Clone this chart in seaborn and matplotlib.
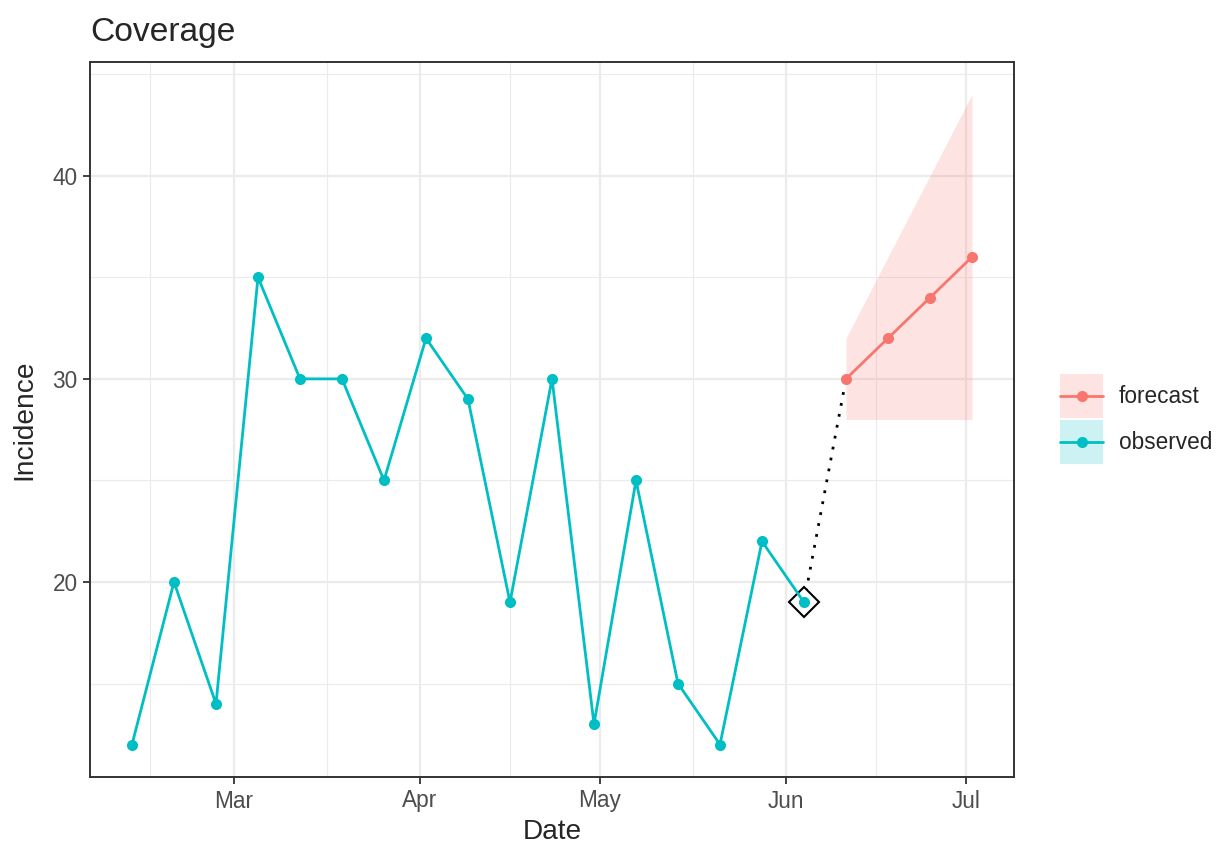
import pandas as pd
import numpy as np
import seaborn as sns
import matplotlib.pyplot as plt
from matplotlib.patches import Patch
from matplotlib.lines import Line2D
from matplotlib.legend_handler import HandlerLine2D

# data
obs_dates = ["2021-02-12", "2021-02-19", "2021-02-26", "2021-03-05", "2021-03-12",
             "2021-03-19", "2021-03-26", "2021-04-02", "2021-04-09", "2021-04-16",
             "2021-04-23", "2021-04-30", "2021-05-07", "2021-05-14", "2021-05-21",
             "2021-05-28", "2021-06-04"]
obs_values = [12, 20, 14, 35, 30, 30, 25, 32, 29, 19, 30, 13, 25, 15, 12, 22, 19]

fc_dates = ["2021-06-11", "2021-06-18", "2021-06-25", "2021-07-02"]
fc_values = [30, 32, 34, 36]
fc_lower = [28, 28, 28, 28]
fc_upper = [32, 36, 40, 44]

month_breaks = ["2021-02-01", "2021-03-01", "2021-04-01", "2021-05-01",
                "2021-06-01", "2021-07-01", "2021-08-01"]
month_labels = ["Feb", "Mar", "Apr", "May", "Jun", "Jul", "Aug"]
y_breaks = [20, 30, 40]
y_minor = [15, 25, 35, 45]

RED = "#F8766D"
TEAL = "#00BFC4"

sns.set_style("white")
plt.rcParams["font.family"] = ["Liberation Sans", "DejaVu Sans"]


# legend line centred on the key background (like ggplot keys)
class CenteredLine(HandlerLine2D):
    def create_artists(self, legend, orig_handle, xdescent, ydescent,
                       width, height, fontsize, trans):
        return super().create_artists(legend, orig_handle, xdescent, 2 * ydescent,
                                      width, height, fontsize, trans)


df = pd.DataFrame({
    "date": pd.to_datetime(obs_dates + fc_dates),
    "value": obs_values + fc_values,
    "type": ["observed"] * len(obs_dates) + ["forecast"] * len(fc_dates),
})

fig = plt.figure(figsize=(12.2, 8.44), dpi=100)
ax = fig.add_axes([90 / 1220, 1 - 777 / 844, (1014 - 90) / 1220, (777 - 62) / 844])

# ribbon
fcd = pd.to_datetime(fc_dates)
ax.fill_between(fcd, fc_lower, fc_upper, color=RED, alpha=0.2, lw=0, zorder=1)

# dotted connector from last observation to first forecast
ax.plot([pd.Timestamp(obs_dates[-1]), fcd[0]], [obs_values[-1], fc_values[0]],
        color="black", lw=2, linestyle=(0, (1, 3)), zorder=1.5)

# diamond on last observed value
ax.plot([pd.Timestamp(obs_dates[-1])], [obs_values[-1]], marker="D", ms=15.5,
        mfc="white", mec="black", mew=1.5, ls="none", zorder=2)

sns.lineplot(data=df, x="date", y="value", hue="type",
             palette={"observed": TEAL, "forecast": RED},
             marker="o", markersize=8, markeredgewidth=0, lw=2,
             errorbar=None, legend=False, ax=ax, zorder=3)

mb = pd.to_datetime(month_breaks)
ax.set_xticks(mb)
ax.set_xticklabels(month_labels)
ax.set_xticks([mb[i] + (mb[i + 1] - mb[i]) / 2 for i in range(len(mb) - 1)], minor=True)
ax.set_yticks(y_breaks)
ax.set_yticks(y_minor, minor=True)

# axes limits, ggplot style 5% expansion
xs = df["date"]
span = xs.max() - xs.min()
ax.set_xlim(xs.min() - span * 0.05, xs.max() + span * 0.05)
ymin, ymax = 12, 44
ax.set_ylim(ymin - (ymax - ymin) * 0.05, ymax + (ymax - ymin) * 0.05)

ax.grid(which="major", color="#EBEBEB", lw=1.6, zorder=0)
ax.grid(which="minor", color="#EBEBEB", lw=0.8, zorder=0)
ax.set_axisbelow(True)

for s in ax.spines.values():
    s.set_color("#333333")
    s.set_linewidth(1.4)

ax.tick_params(which="major", length=5, width=1.3, color="#333333",
               labelsize=16.3, labelcolor="#4D4D4D", pad=4,
               bottom=True, left=True)
ax.tick_params(which="minor", length=0)

ax.set_xlabel("Date", fontsize=20.2, labelpad=5)
ax.set_ylabel("Incidence", fontsize=20.2, labelpad=11)
ax.set_title("Coverage", loc="left", fontsize=24.2, pad=15)

handles = [
    (Patch(facecolor=RED, alpha=0.2, edgecolor="none"),
     Line2D([], [], color=RED, marker="o", lw=2, ms=8, mew=0)),
    (Patch(facecolor=TEAL, alpha=0.2, edgecolor="none"),
     Line2D([], [], color=TEAL, marker="o", lw=2, ms=8, mew=0)),
]
fig.legend(handles, ["forecast", "observed"], loc="center left",
           bbox_to_anchor=(1060 / 1220, 1 - 419 / 844), frameon=False,
           fontsize=16.3, handlelength=1.9, handleheight=2.6, handletextpad=0.7,
           labelspacing=0.12, borderpad=0, borderaxespad=0,
           handler_map={Line2D: CenteredLine()})

fig.savefig("out.png", dpi=100)
